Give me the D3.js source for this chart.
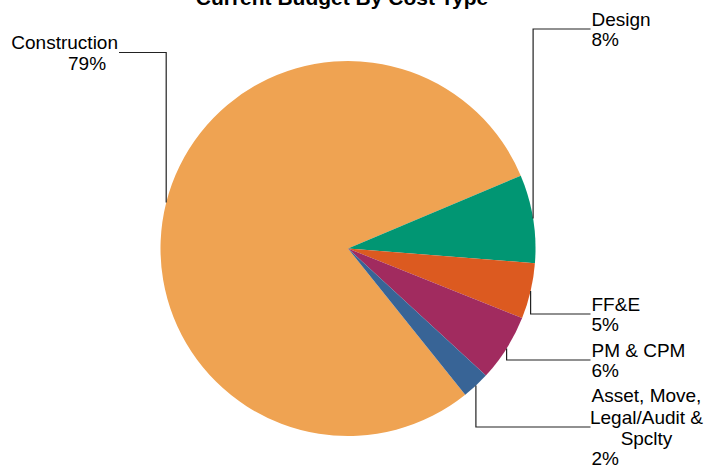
<!DOCTYPE html>
<html>
<head>
<meta charset="utf-8">
<script src="https://cdn.jsdelivr.net/npm/d3@7"></script>
<style>
  html, body { margin: 0; padding: 0; background: #fff; }
  svg { display: block; font-family: "Liberation Sans", Arial, sans-serif; }
</style>
</head>
<body>
<svg id="chart" width="705" height="468"></svg>
<script>
const title = "Current Budget By Cost Type";
const categories = ["Construction", "Design", "FF&E", "PM & CPM", "Asset, Move, Legal/Audit & Spclty"];
const labelLines = [["Construction"], ["Design"], ["FF&E"], ["PM & CPM"], ["Asset, Move,", "Legal/Audit &", "Spclty"]];
const values = [79.4, 7.6, 4.8, 5.8, 2.4];
const colors = ["#EFA352", "#019673", "#DC5A20", "#A12B5F", "#386496"];
// label row (y of leader elbow) for each slice
const leaderY = [52.5, 29, 314, 360, 427];

const svg = d3.select("#chart");
const cx = 348, cy = 248.5, R = 187.5;

svg.append("text")
  .attr("x", 342).attr("y", 5)
  .attr("text-anchor", "middle")
  .attr("font-weight", "bold")
  .attr("font-size", 21)
  .attr("fill", "#000")
  .text(title);

const startDeg = 141.3;
const pie = d3.pie().sort(null).value(d => d)
  .startAngle(startDeg * Math.PI / 180)
  .endAngle(startDeg * Math.PI / 180 + 2 * Math.PI);
const arcs = pie(values);
const arc = d3.arc().innerRadius(0).outerRadius(R);
const total = d3.sum(values);
const fmt = d3.format(".0%");

const g = svg.append("g").attr("transform", `translate(${cx},${cy})`);
g.selectAll("path.slice").data(arcs).enter().append("path")
  .attr("class", "slice")
  .attr("d", arc)
  .attr("fill", (d, i) => colors[i])
  .attr("stroke", "none");

const leaderR = R;
const rightX = 590.5;
const leftX = 119;

arcs.forEach((d, i) => {
  const mid = (d.startAngle + d.endAngle) / 2;
  const px = cx + leaderR * Math.sin(mid);
  const py = cy - leaderR * Math.cos(mid);
  const right = Math.sin(mid) > 0;
  const ey = leaderY[i];
  const ex = right ? rightX : leftX;
  svg.append("path")
    .attr("d", `M${px.toFixed(1)},${py.toFixed(1)}V${ey}H${ex}`)
    .attr("fill", "none")
    .attr("stroke", "#222")
    .attr("stroke-width", 1.2);

  const pct = fmt(d.data / total);
  const lines = labelLines[i];
  const fs = 19, lh = 21.7;
  if (right) {
    const nLines = lines.length;
    const firstBase = nLines === 1 ? ey - 3 : ey - 25;
    const blockW = 116;
    lines.forEach((ln, k) => {
      svg.append("text")
        .attr("x", nLines === 1 ? ex + 1 : ex - 2 + blockW / 2)
        .attr("y", firstBase + k * lh)
        .attr("text-anchor", nLines === 1 ? "start" : "middle")
        .attr("font-size", fs)
        .attr("fill", "#000")
        .text(ln);
    });
    svg.append("text")
      .attr("x", ex + 1)
      .attr("y", firstBase + (nLines - 1) * lh + 19.5)
      .attr("font-size", fs)
      .attr("fill", "#000")
      .text(pct);
  } else {
    svg.append("text")
      .attr("x", ex - 1).attr("y", ey - 4)
      .attr("text-anchor", "end")
      .attr("font-size", fs)
      .attr("fill", "#000")
      .text(lines[0]);
    svg.append("text")
      .attr("x", 68).attr("y", ey + 17)
      .attr("font-size", fs)
      .attr("fill", "#000")
      .text(pct);
  }
});
</script>
</body>
</html>
